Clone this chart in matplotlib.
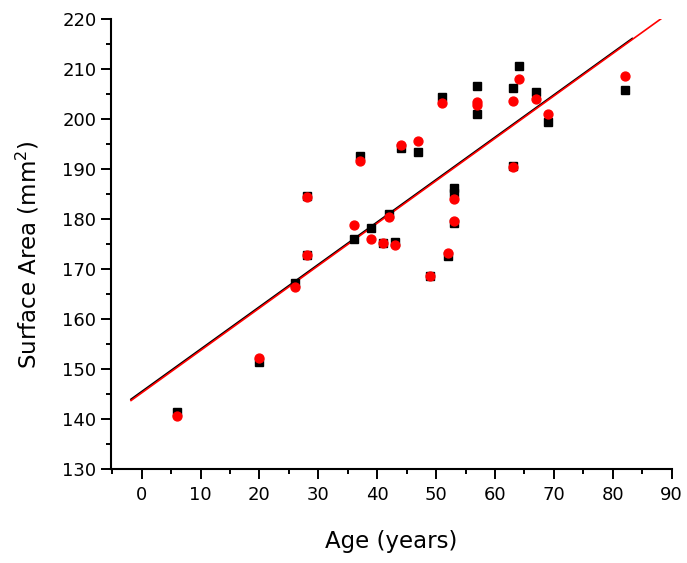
import matplotlib.pyplot as plt
from matplotlib.ticker import MultipleLocator

# Surface area vs age, two measurement sets (black squares, red circles)
black_age = [6, 20, 26, 28, 28, 36, 37, 39, 41, 42, 43, 44, 47, 49, 51, 52,
             53, 53, 53, 57, 57, 63, 63, 64, 67, 69, 82]
black_area = [141.5, 151.4, 167.2, 172.9, 184.6, 176.0, 192.6, 178.2, 175.2,
              181.0, 175.5, 194.2, 193.4, 168.6, 204.4, 172.6, 186.2, 185.3,
              179.2, 206.6, 201.0, 206.3, 190.6, 210.7, 205.5, 199.5, 205.8]

red_age = [6, 20, 26, 28, 28, 36, 37, 39, 41, 42, 43, 44, 47, 49, 51, 52,
           53, 53, 57, 57, 63, 63, 64, 67, 69, 82]
red_area = [140.7, 152.2, 166.4, 172.8, 184.4, 178.8, 191.7, 176.0, 175.3,
            180.5, 174.9, 194.8, 195.6, 168.6, 203.3, 173.3, 184.0, 179.7,
            203.4, 202.8, 203.7, 190.5, 208.0, 204.1, 201.0, 208.7]

# linear fit lines (end points)
black_fit_x = [-1.8, 83.3]
black_fit_y = [143.95, 216.15]
red_fit_x = [-1.8, 88.3]
red_fit_y = [143.7, 220.2]

plt.rcParams.update({
    'font.family': 'DejaVu Sans',
    'axes.linewidth': 1.5,
})

fig = plt.figure(figsize=(6.87, 5.63), dpi=100)
ax = fig.add_axes([0.1616, 0.167, 0.8161, 0.7987])

ax.plot(black_fit_x, black_fit_y, color='black', linewidth=1.3, zorder=2)
ax.plot(red_fit_x, red_fit_y, color='red', linewidth=1.2, zorder=3)

ax.plot(black_age, black_area, linestyle='none', marker='s', markersize=5.6,
        color='black', zorder=4)
ax.plot(red_age, red_area, linestyle='none', marker='o', markersize=6.4,
        color='red', zorder=5)

ax.set_xlim(-5.2, 90)
ax.set_ylim(130, 220)
ax.xaxis.set_major_locator(MultipleLocator(10))
ax.xaxis.set_minor_locator(MultipleLocator(5))
ax.yaxis.set_major_locator(MultipleLocator(10))
ax.yaxis.set_minor_locator(MultipleLocator(5))

ax.spines['top'].set_visible(False)
ax.spines['right'].set_visible(False)

ax.tick_params(which='major', direction='out', length=7, width=1.4,
               labelsize=13, colors='black')
ax.tick_params(which='minor', direction='out', length=3.3, width=1.4)
ax.tick_params(axis='x', which='major', pad=5)
ax.tick_params(axis='y', which='major', pad=3.5)

ax.set_xlabel('Age (years)', fontsize=16.5)
ax.set_ylabel('Surface Area (mm$^2$)', fontsize=16.5)
ax.xaxis.set_label_coords(0.5, -0.135)
ax.yaxis.set_label_coords(-0.125, 0.476)

plt.savefig('out.png', dpi=100)
plt.close()
